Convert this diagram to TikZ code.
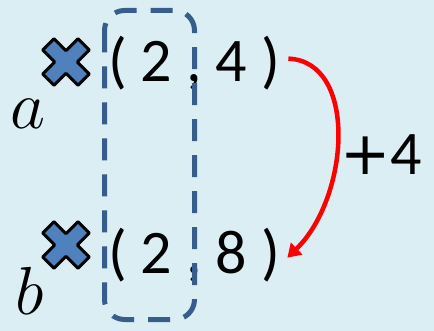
\RequirePackage{fix-cm}
\documentclass[tikz,border=0pt]{standalone}
\usepackage{fontspec}
\setmainfont{Carlito}
\newfontfamily\symfont{DejaVu Sans}
\usetikzlibrary{arrows.meta}
\definecolor{bgblue}{HTML}{DBEEF4}
\definecolor{crossblue}{HTML}{4F81BD}
\definecolor{boxblue}{HTML}{385D8A}
\begin{document}
\begin{tikzpicture}[x=1pt, y=-1pt,
  big/.style = {font=\fontsize{62}{70}\selectfont, inner sep=0pt, anchor=base west},
  lab/.style = {font=\fontsize{68}{70}\selectfont, inner sep=0pt, anchor=base west},
  crossmark/.style = {fill=crossblue, draw=black, line width=3pt, line join=round},
  frame/.style = {draw=boxblue, line width=5pt, dash pattern=on 22pt off 14pt, rounded corners=20pt},
  plusarrow/.style = {draw=red, line width=4.5pt, -{Triangle[length=13pt,width=16pt]}}]
\fill[bgblue] (0,0) rectangle (434,331);
\useasboundingbox (0,0) rectangle (434,331);

% points
\node[big] (pa) at (108,82) {( 2 , 4 )};
\node[big] (pb) at (108,273) {( 2 , 8 )};
\node[lab] (la) at (10,129) {$a$};
\node[lab] (lb) at (15,314) {$b$};

% crosses
\foreach \y in {62,245}
  \filldraw[crossmark, shift={(66,\y)}, rotate=45] (-25,-8) -- (-8,-8) -- (-8,-25) -- (8,-25) -- (8,-8) -- (25,-8) -- (25,8) -- (8,8) -- (8,25) -- (-8,25) -- (-8,8) -- (-25,8) -- cycle;

% first coordinate
\draw[frame] (104.5,10.5) rectangle (194.5,319.5);

% step
\draw[plusarrow] ([xshift=8pt,yshift=5pt]pa.east) .. controls +(70,3) and +(62,-60) .. ([xshift=7pt,yshift=-3pt]pb.east);
\node[big] (inc) at (340,175) {{\symfont\fontsize{60}{60}\selectfont +}4};

\end{tikzpicture}
\end{document}
